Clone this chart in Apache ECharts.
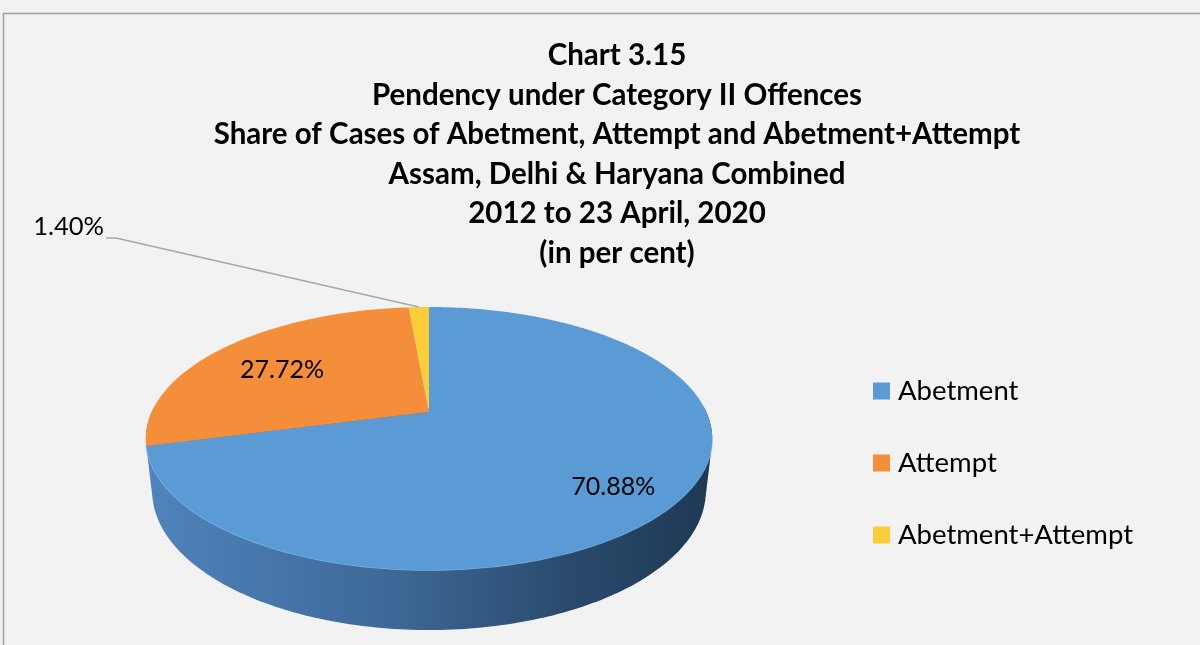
<!DOCTYPE html>
<html><head><meta charset="utf-8">
<script src="https://cdn.jsdelivr.net/npm/echarts@6/dist/echarts.min.js"></script>
<style>html,body{margin:0;padding:0;background:#f2f2f2}#c{width:1200px;height:645px}</style>
</head><body><div id="c"></div>
<script>
const categories = ['Abetment', 'Attempt', 'Abetment+Attempt'];
const shares = [70.88, 27.72, 1.40];
const titleLines = ['Chart 3.15', 'Pendency under Category II Offences', 'Share of Cases of Abetment, Attempt and Abetment+Attempt', 'Assam, Delhi & Haryana Combined', '2012 to 23 April, 2020', '(in per cent)'];
const colors = ['#5b9bd5', '#f58e3b', '#fbcd3a'];

const FONT = 'Lato';
const CX = 429, CY = 412, F = 1225, D = 4.417, TILT = 27.06 * Math.PI / 180, T = 0.2133;
const S = Math.sin(TILT), C = Math.cos(TILT);
function proj(theta, r, yw) {
  const X = r * Math.sin(theta), Z = r * Math.cos(theta);
  const up = Z * S + yw * C, depth = D + Z * C - yw * S;
  return [CX + F * X / depth, CY - F * up / depth];
}
const total = shares.reduce((a, b) => a + b, 0);
const starts = []; let acc = 0; shares.forEach(v => { starts.push(acc); acc += v; });

function hull(points) {
  const p = points.slice().sort((a, b) => a[0] - b[0] || a[1] - b[1]);
  const cross = (o, a, b) => (a[0] - o[0]) * (b[1] - o[1]) - (a[1] - o[1]) * (b[0] - o[0]);
  const lo = [], up = [];
  for (const q of p) { while (lo.length >= 2 && cross(lo[lo.length - 2], lo[lo.length - 1], q) <= 0) lo.pop(); lo.push(q); }
  for (let i = p.length - 1; i >= 0; i--) { const q = p[i]; while (up.length >= 2 && cross(up[up.length - 2], up[up.length - 1], q) <= 0) up.pop(); up.push(q); }
  up.pop(); lo.pop();
  return lo.concat(up);
}

function wallItem(params, api) {
  const pts = [];
  for (let k = 0; k < 360; k++) {
    const th = k * Math.PI / 180;
    if (Math.cos(th) <= 0.05) pts.push(proj(th, 1, 0));
    if (Math.cos(th) <= 0) pts.push(proj(th, 1, -T));
  }
  const h = hull(pts);
  const rim = [];
  for (let k = 100; k <= 256; k++) rim.push(proj(k * Math.PI / 180, 1, 0));
  return {
    type: 'group', children: [
      { type: 'polygon', shape: { points: h }, style: { fill: new echarts.graphic.LinearGradient(0, 0, 1, 0, [
        { offset: 0, color: '#4f84bd' }, { offset: 0.45, color: '#3d6795' }, { offset: 0.75, color: '#2a4a6d' }, { offset: 1, color: '#1f3854' }]) } },
      { type: 'polyline', z2: 50, shape: { points: rim }, style: { stroke: '#8cc2f2', lineWidth: 1.5, opacity: 0.8, fill: null } }
    ]
  };
}

const labelR = [0.76, 0.70, 1];
const labelDy = [10, 5, 0];
function sliceItem(i) {
  return function (params, api) {
    const v = api.value(0);
    const a0 = starts[i] / total * 2 * Math.PI, a1 = (starts[i] + v) / total * 2 * Math.PI;
    const pts = [proj(0, 0, 0)];
    const n = Math.max(2, Math.ceil((a1 - a0) / 0.01));
    for (let k = 0; k <= n; k++) pts.push(proj(a0 + (a1 - a0) * k / n, 1, 0));
    const mid = (a0 + a1) / 2;
    const children = [{ type: 'polygon', shape: { points: pts }, style: { fill: colors[i] } }];
    const txt = v.toFixed(2) + '%';
    if (i < 2) {
      const lp = proj(mid, labelR[i], 0);
      children.push({ type: 'text', z2: 100, style: { x: lp[0], y: lp[1] + labelDy[i], text: txt, fill: '#000', font: '25px ' + FONT, align: 'center', verticalAlign: 'middle' } });
    } else {
      const p0 = proj(mid, 1, 0);
      children.push({ type: 'polyline', shape: { points: [p0, [116, 238], [106, 238]] }, style: { stroke: '#a6a6a6', lineWidth: 1.5, fill: null } });
      children.push({ type: 'text', z2: 100, style: { x: 104, y: 227, text: txt, fill: '#000', font: '25.5px ' + FONT, align: 'right', verticalAlign: 'middle' } });
    }
    return { type: 'group', children };
  };
}

const chart = echarts.init(document.getElementById('c'), null, { renderer: 'canvas' });
const series = [{
  type: 'custom', name: 'wall', coordinateSystem: 'none', z: 1, silent: true, data: [0], renderItem: wallItem
}];
categories.forEach((name, i) => {
  series.push({ type: 'custom', name, coordinateSystem: 'none', z: 2, silent: true, data: [shares[i]], itemStyle: { color: colors[i] }, renderItem: sliceItem(i) });
});
chart.setOption({
  backgroundColor: '#f2f2f2',
  animation: false,
  title: {
    text: titleLines.join('\n'), left: 612, top: 31, textAlign: 'center',
    textStyle: { fontFamily: FONT, fontWeight: 'bold', fontSize: 29.5, lineHeight: 39.5, color: '#000' }
  },
  legend: {
    data: categories, orient: 'vertical', left: 868, top: 371, itemGap: 42, itemWidth: 17, itemHeight: 17, icon: 'rect',
    textStyle: { fontFamily: FONT, fontSize: 27.5, color: '#000', lineHeight: 30, padding: [0, 0, 0, 3] }
  },
  graphic: [
    { type: 'line', shape: { x1: 3, y1: 13.5, x2: 1200, y2: 13.5 }, style: { stroke: '#a0a0a0', lineWidth: 1.5 } },
    { type: 'line', shape: { x1: 3.5, y1: 13, x2: 3.5, y2: 645 }, style: { stroke: '#a0a0a0', lineWidth: 1.5 } }
  ],
  series
});
</script></body></html>
